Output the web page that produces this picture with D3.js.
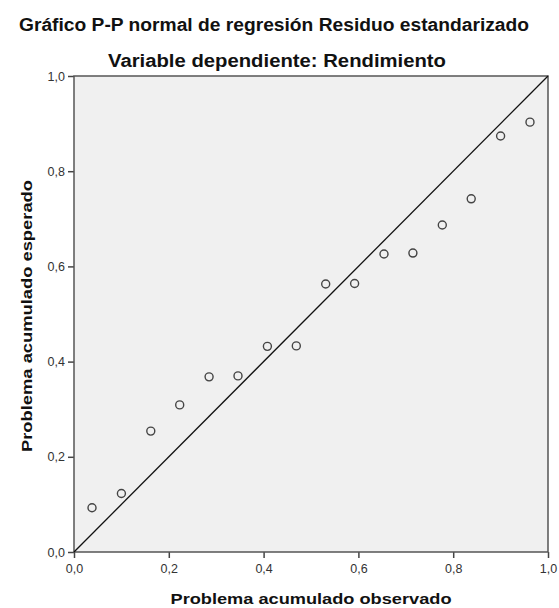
<!DOCTYPE html>
<html><head><meta charset="utf-8">
<script src="https://cdn.jsdelivr.net/npm/d3@7"></script>
<style>body{margin:0;background:#fff}svg{display:block}</style>
</head><body>
<script>
const title = "Gráfico P-P normal de regresión Residuo estandarizado";
const subtitle = "Variable dependiente: Rendimiento";
const xLabel = "Problema acumulado observado";
const yLabel = "Problema acumulado esperado";
const observed = [0.038,0.100,0.162,0.223,0.285,0.346,0.408,0.469,0.531,0.592,0.654,0.715,0.777,0.838,0.900,0.962];
const expected = [0.093,0.123,0.254,0.309,0.368,0.370,0.432,0.433,0.563,0.564,0.626,0.628,0.687,0.742,0.874,0.903];
const ticks = [0,0.2,0.4,0.6,0.8,1.0];

const W=559,H=608;
const m={l:74,t:76,r:548,b:552};
const FF="Liberation Sans, Arial, sans-serif";
const svg=d3.select("body").append("svg").attr("width",W).attr("height",H);
const x=d3.scaleLinear().domain([0,1]).range([m.l,m.r]);
const y=d3.scaleLinear().domain([0,1]).range([m.b,m.t]);
const fmt=d=>d3.format(".1f")(d).replace(".",",");

svg.append("text").attr("x",274).attr("y",31).attr("text-anchor","middle")
  .attr("font-family",FF).attr("font-weight","bold")
  .attr("font-size",18).attr("fill","#111")
  .attr("textLength",510).attr("lengthAdjust","spacingAndGlyphs").text(title);
svg.append("text").attr("x",277).attr("y",67).attr("text-anchor","middle")
  .attr("font-family",FF).attr("font-weight","bold")
  .attr("font-size",18).attr("fill","#111")
  .attr("textLength",338).attr("lengthAdjust","spacingAndGlyphs").text(subtitle);

svg.append("rect").attr("x",m.l).attr("y",m.t).attr("width",m.r-m.l).attr("height",m.b-m.t)
  .attr("fill","#f0f0f0");

const xAxis=svg.append("g").attr("transform",`translate(0,${m.b})`)
  .call(d3.axisBottom(x).tickValues(ticks).tickFormat(fmt).tickSize(6).tickPadding(6));
const yAxis=svg.append("g").attr("transform",`translate(${m.l},0)`)
  .call(d3.axisLeft(y).tickValues(ticks).tickFormat(fmt).tickSize(6).tickPadding(3));
[xAxis,yAxis].forEach(g=>{
  g.select(".domain").remove();
  g.selectAll(".tick line").attr("stroke","#444").attr("stroke-width",1.5);
  g.selectAll(".tick text").attr("font-family",FF)
    .attr("font-size",12.5).attr("fill","#333");
});

svg.append("rect").attr("x",m.l).attr("y",m.t).attr("width",m.r-m.l).attr("height",m.b-m.t)
  .attr("fill","none").attr("stroke","#555").attr("stroke-width",1.5);

svg.append("line").attr("x1",x(0)).attr("y1",y(0)).attr("x2",x(1)).attr("y2",y(1))
  .attr("stroke","#111").attr("stroke-width",1.3);

svg.append("g").selectAll("circle").data(observed).join("circle")
  .attr("cx",(d)=>x(d)).attr("cy",(d,i)=>y(expected[i])).attr("r",4)
  .attr("fill","none").attr("stroke","#444").attr("stroke-width",1.4);

svg.append("text").attr("x",311).attr("y",604).attr("text-anchor","middle")
  .attr("font-family",FF).attr("font-weight","bold")
  .attr("font-size",15).attr("fill","#111")
  .attr("textLength",281).attr("lengthAdjust","spacingAndGlyphs").text(xLabel);
svg.append("text").attr("transform",`translate(32,316) rotate(-90)`).attr("text-anchor","middle")
  .attr("font-family",FF).attr("font-weight","bold")
  .attr("font-size",15).attr("fill","#111")
  .attr("textLength",272).attr("lengthAdjust","spacingAndGlyphs").text(yLabel);
</script>
</body></html>
